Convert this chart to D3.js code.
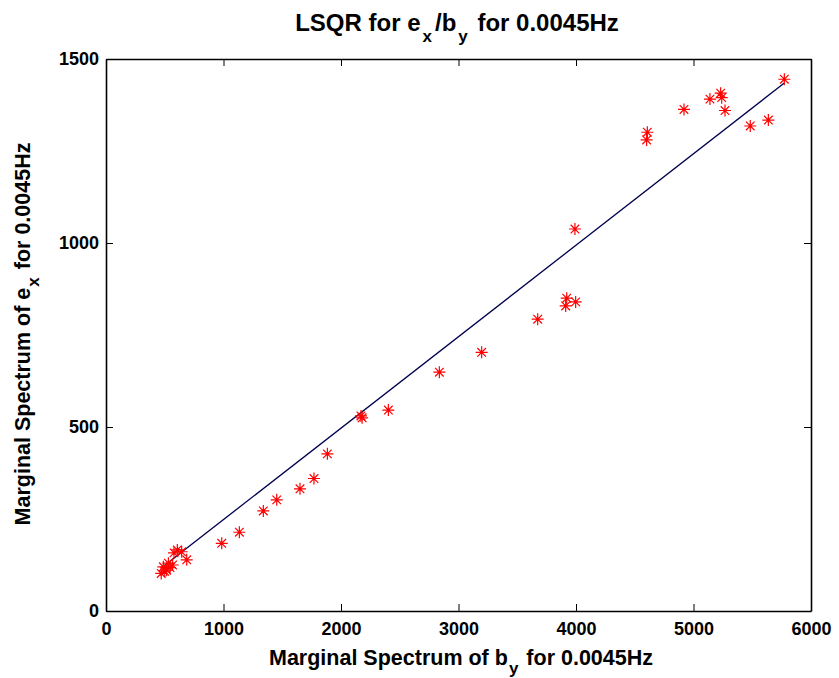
<!DOCTYPE html>
<html>
<head>
<meta charset="utf-8">
<script src="https://cdn.jsdelivr.net/npm/d3@7/dist/d3.min.js"></script>
<style>
body { margin: 0; background: #fff; }
text { font-family: "Liberation Sans", Arial, sans-serif; font-weight: bold; fill: #000; }
</style>
</head>
<body>
<div id="chart-area"></div>
<script>
var svgWidth = 839
var svgHeight = 678

// spectrum values
var by = [470, 488, 500, 516, 531, 545, 567, 579, 607, 644, 687,
	985, 1135, 1339, 1453, 1651, 1770, 1884, 2170, 2180, 2403, 2837, 3197,
	3674, 3912, 3921, 3997, 3991, 4601, 4607, 4919, 5140, 5231, 5240, 5268,
	5483, 5637, 5773]
var ex = [102, 120, 108, 111, 130, 118, 125, 158, 166, 161, 139,
	184, 214, 272, 302, 332, 360, 427, 530, 525, 546, 649, 703,
	793, 829, 850, 840, 1038, 1280, 1301, 1363, 1391, 1407, 1395, 1360,
	1318, 1334, 1445]
// least squares fit line ex = slope * by
var fitSlope = 0.2485
var fitIntercept = 0

var xTicks = [0, 1000, 2000, 3000, 4000, 5000, 6000]
var yTicks = [0, 500, 1000, 1500]

var data = by.map(function(d, i){ return {x: d, y: ex[i]} })

var margin = {left: 106, right: 28, top: 59, bottom: 67}
var w = svgWidth - margin.left - margin.right
var h = svgHeight - margin.top - margin.bottom

var svg = d3.select("#chart-area")
			.append("svg")
			.attr("width", svgWidth)
			.attr("height", svgHeight)

var g = svg.append("g")
			.attr("transform", "translate(" + margin.left + "," + margin.top + ")")

var x = d3.scaleLinear().domain([0, 6000]).range([0, w])
var y = d3.scaleLinear().domain([0, 1500]).range([h, 0])
var fmt = d3.format("d")

// axes with inward ticks, MATLAB style box
var tickLen = 7
g.append("g")
	.attr("transform", "translate(0," + h + ")")
	.call(d3.axisBottom(x).tickValues(xTicks).tickFormat(fmt).tickSizeInner(-tickLen).tickSizeOuter(0).tickPadding(11))
g.append("g")
	.call(d3.axisTop(x).tickValues(xTicks).tickSizeInner(-tickLen).tickSizeOuter(0).tickFormat(""))
g.append("g")
	.call(d3.axisLeft(y).tickValues(yTicks).tickFormat(fmt).tickSizeInner(-tickLen).tickSizeOuter(0).tickPadding(7))
g.append("g")
	.attr("transform", "translate(" + w + ",0)")
	.call(d3.axisRight(y).tickValues(yTicks).tickSizeInner(-tickLen).tickSizeOuter(0).tickFormat(""))

g.selectAll(".domain").attr("stroke", "#000").attr("stroke-width", 1.6)
g.selectAll(".tick line").attr("stroke", "#000").attr("stroke-width", 1)
g.selectAll(".tick text")
	.style("font-family", "'Liberation Sans', Arial, sans-serif")
	.style("font-weight", "bold")
	.style("font-size", "18px")

// fit line
var xMin = d3.min(by), xMax = d3.max(by)
g.append("line")
	.attr("x1", x(xMin)).attr("y1", y(fitSlope * xMin + fitIntercept))
	.attr("x2", x(xMax)).attr("y2", y(fitSlope * xMax + fitIntercept))
	.attr("stroke", "#00004f")
	.attr("stroke-width", 1.3)

// asterisk markers
var r = 6, rd = 4.3
var star = "M" + (-r) + ",0H" + r + "M0," + (-r) + "V" + r +
	"M" + (-rd) + "," + (-rd) + "L" + rd + "," + rd +
	"M" + (-rd) + "," + rd + "L" + rd + "," + (-rd)
g.selectAll("path.pt").data(data)
	.enter()
	.append("path")
	.attr("class", "pt")
	.attr("d", star)
	.attr("transform", function(d){ return "translate(" + x(d.x) + "," + y(d.y) + ")" })
	.attr("fill", "none")
	.attr("stroke", "#ff0000")
	.attr("stroke-width", 1.2)

// title
var title = svg.append("text")
	.attr("x", 457)
	.attr("y", 31)
	.attr("text-anchor", "middle")
	.style("font-size", "24px")
title.append("tspan").text("LSQR for e")
title.append("tspan").attr("dy", 11).attr("dx", 2).style("font-size", "17px").text("x")
title.append("tspan").attr("dy", -11).attr("dx", 3).text("/b")
title.append("tspan").attr("dy", 11).attr("dx", 2).style("font-size", "17px").text("y")
title.append("tspan").attr("dy", -11).attr("dx", 3).text(" for 0.0045Hz")

// x label
var xl = svg.append("text")
	.attr("x", 461)
	.attr("y", 665)
	.attr("text-anchor", "middle")
	.style("font-size", "21.5px")
xl.append("tspan").text("Marginal Spectrum of b")
xl.append("tspan").attr("dy", 9).attr("dx", 1).style("font-size", "17px").text("y")
xl.append("tspan").attr("dy", -9).attr("dx", 2).text(" for 0.0045Hz")

// y label
var yl = svg.append("text")
	.attr("transform", "translate(30," + 334 + ") rotate(-90)")
	.attr("text-anchor", "middle")
	.style("font-size", "21.5px")
yl.append("tspan").text("Marginal Spectrum of e")
yl.append("tspan").attr("dy", 9).attr("dx", 1).style("font-size", "17px").text("x")
yl.append("tspan").attr("dy", -9).attr("dx", 2).text(" for 0.0045Hz")
</script>
</body>
</html>
